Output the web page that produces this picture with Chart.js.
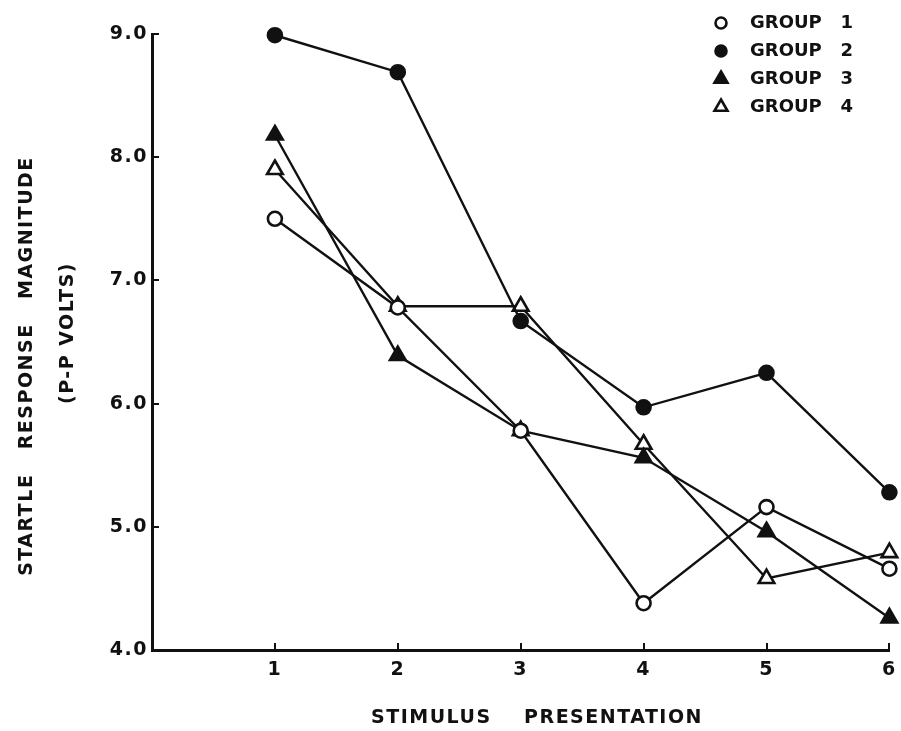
<!DOCTYPE html>
<html>
<head>
<meta charset="utf-8">
<script src="https://cdn.jsdelivr.net/npm/chart.js@4.4.1/dist/chart.umd.min.js"></script>
<style>
  html, body { margin: 0; padding: 0; background: #fff; }
</style>
</head>
<body>
<canvas id="myChart" width="901" height="731"></canvas>
<script>
// stimulus presentation (x) and startle magnitude per group (p-p volts)
const stimulus = [1, 2, 3, 4, 5, 6];
const yTicks = [4, 5, 6, 7, 8, 9];
const group1 = [7.50, 6.78, 5.78, 4.38, 5.16, 4.66];
const group2 = [8.99, 8.69, 6.67, 5.97, 6.25, 5.28];
const group3 = [8.18, 6.39, 5.78, 5.56, 4.96, 4.26];
const group4 = [7.90, 6.79, 6.79, 5.67, 4.58, 4.79];
const groupLabels = ['GROUP   1', 'GROUP   2', 'GROUP   3', 'GROUP   4'];
const xTitle = 'STIMULUS    PRESENTATION';
const yTitle = ['STARTLE   RESPONSE   MAGNITUDE', '(P-P VOLTS)'];

const ink = '#111';
const font = '"DejaVu Sans", sans-serif';

// build one line dataset
function makeSet(label, values, style, filled) {
    return {
        label: label,
        data: stimulus.map((s, i) => ({ x: s, y: values[i] })),
        borderColor: ink,
        borderWidth: 2.4,
        tension: 0,
        pointStyle: style,
        pointRadius: style === 'triangle' ? 9 : 7,
        pointBorderWidth: 2.6,
        pointBorderColor: ink,
        pointBackgroundColor: filled ? ink : '#fff',
        clip: false
    };
}

// wider lettering like the stencil text of the original
const spacing = {
    id: 'spacing',
    beforeUpdate(chart) { chart.ctx.letterSpacing = '1.5px'; },
    beforeDraw(chart) { chart.ctx.letterSpacing = '1.5px'; }
};

// axis titles
const axisTitles = {
    id: 'axisTitles',
    afterDraw(chart) {
        const ctx = chart.ctx;
        ctx.save();
        ctx.font = 'bold 19px ' + font;
        ctx.fillStyle = ink;
        ctx.textAlign = 'center';
        ctx.textBaseline = 'middle';
        ctx.fillText(xTitle, 537, 718);
        ctx.save();
        ctx.translate(27, 366);
        ctx.rotate(-Math.PI / 2);
        ctx.fillText(yTitle[0], 0, 0);
        ctx.restore();
        ctx.translate(68, 333);
        ctx.rotate(-Math.PI / 2);
        ctx.fillText(yTitle[1], 0, 0);
        ctx.restore();
    }
};

// legend in the top right corner
const groupLegend = {
    id: 'groupLegend',
    afterDraw(chart) {
        const ctx = chart.ctx;
        chart.data.datasets.forEach((ds, i) => {
            const y = 23 + i * 28;
            ctx.save();
            ctx.letterSpacing = '0px';
            ctx.fillStyle = ds.pointBackgroundColor;
            ctx.strokeStyle = ink;
            ctx.lineWidth = 2.6;
            Chart.helpers.drawPoint(ctx, {
                pointStyle: ds.pointStyle,
                radius: ds.pointStyle === 'triangle' ? 7.5 : 5.5,
                rotation: 0,
                borderWidth: 2.6
            }, 721, y);
            ctx.font = 'bold 18px ' + font;
            ctx.fillStyle = ink;
            ctx.textAlign = 'left';
            ctx.textBaseline = 'middle';
            ctx.fillText(ds.label, 750, y);
            ctx.restore();
        });
    }
};

const ctx = document.getElementById('myChart').getContext('2d');
const myChart = new Chart(ctx, {
    type: 'line',
    data: {
        datasets: [
            makeSet(groupLabels[0], group1, 'circle', false),
            makeSet(groupLabels[1], group2, 'circle', true),
            makeSet(groupLabels[2], group3, 'triangle', true),
            makeSet(groupLabels[3], group4, 'triangle', false)
        ]
    },
    options: {
        responsive: false,
        animation: false,
        layout: { padding: { left: 0, right: 5, top: 34, bottom: 0 } },
        plugins: {
            legend: { display: false },
            tooltip: { enabled: false }
        },
        scales: {
            x: {
                type: 'linear',
                min: 0,
                max: 6,
                afterBuildTicks: scale => { scale.ticks = stimulus.map(v => ({ value: v })); },
                afterFit: scale => {
                    scale.height = 81;
                    scale.paddingLeft = 0;
                    scale.paddingRight = 0;
                },
                border: { color: ink, width: 3 },
                grid: { drawOnChartArea: false, color: ink, lineWidth: 2, tickLength: -7 },
                ticks: {
                    color: ink,
                    padding: 16,
                    font: { family: font, size: 19, weight: 'bold' }
                }
            },
            y: {
                min: 4,
                max: 9,
                afterBuildTicks: scale => { scale.ticks = yTicks.map(v => ({ value: v })); },
                afterFit: scale => {
                    scale.width = 152;
                    scale.paddingTop = 0;
                    scale.paddingBottom = 0;
                },
                border: { color: ink, width: 3 },
                grid: { drawOnChartArea: false, color: ink, lineWidth: 2, tickLength: -7 },
                ticks: {
                    color: ink,
                    padding: 11,
                    font: { family: font, size: 19, weight: 'bold' },
                    callback: v => v.toFixed(1)
                }
            }
        }
    },
    plugins: [spacing, axisTitles, groupLegend]
});
</script>
</body>
</html>
